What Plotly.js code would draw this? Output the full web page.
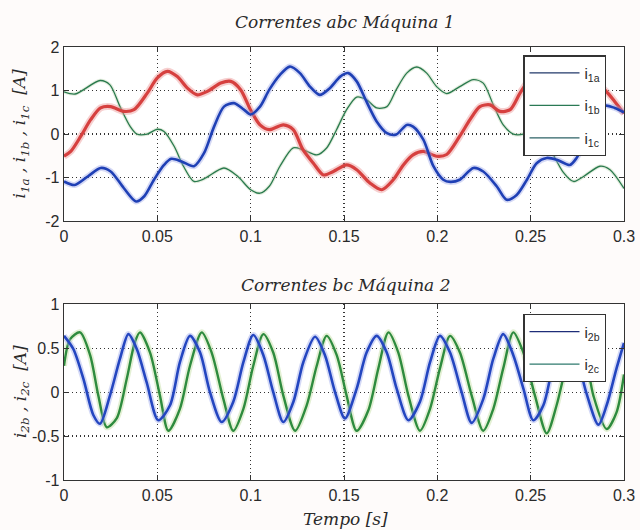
<!DOCTYPE html>
<html>
<head>
<meta charset="utf-8">
<script src="https://cdn.plot.ly/plotly-3.0.1.min.js"></script>
<style>html,body{margin:0;padding:0;background:#fefbfa;}</style>
</head>
<body>
<div id="chart" style="width:640px;height:530px;"></div>
<script>
// ---- Top plot: Correntes abc Máquina 1 ----
const i1a_t = [0,0.0057,0.0129,0.0196,0.025,0.032,0.0386,0.043,0.0482,0.0536,0.0575,0.063,0.0696,0.075,0.0804,0.0857,0.0911,0.0964,0.1,0.105,0.11,0.1157,0.121,0.1264,0.1318,0.137,0.1425,0.148,0.1523,0.1568,0.162,0.1675,0.173,0.178,0.1836,0.187,0.1925,0.1979,0.2032,0.207,0.212,0.2193,0.2246,0.2318,0.2371,0.2425,0.248,0.2532,0.2586,0.264,0.271,0.2746,0.28,0.285,0.29,0.295,0.3];
const i1a_v = [-1.09,-1.17,-0.97,-0.78,-0.86,-1.24,-1.55,-1.43,-1.05,-0.71,-0.57,-0.63,-0.74,-0.44,0.17,0.63,0.71,0.56,0.45,0.63,1.02,1.36,1.55,1.4,1.09,0.9,1.06,1.32,1.4,1.21,0.75,0.29,0.02,-0.01,0.21,0.17,-0.13,-0.74,-1.05,-1.1,-1.05,-0.78,-0.86,-1.2,-1.51,-1.4,-1.05,-0.67,-0.55,-0.59,-0.71,-0.55,-0.1,0.4,0.65,0.6,0.5];

const i1b_t = [0,0.006,0.0193,0.0246,0.03,0.0355,0.039,0.0446,0.05,0.0536,0.059,0.064,0.0696,0.075,0.0857,0.093,0.1,0.105,0.11,0.1157,0.1228,0.128,0.1354,0.1407,0.146,0.1514,0.1568,0.162,0.1675,0.173,0.178,0.1836,0.189,0.1943,0.1996,0.205,0.212,0.2193,0.2246,0.23,0.2353,0.2407,0.246,0.25,0.255,0.26,0.2675,0.273,0.2785,0.2871,0.2925,0.3];
const i1b_v = [0.97,0.92,1.23,1.13,0.63,0.17,0.0,0.0,0.11,0.06,-0.28,-0.74,-1.09,-1.03,-0.78,-0.97,-1.28,-1.36,-1.2,-0.74,-0.32,-0.36,-0.48,-0.32,0.1,0.56,0.85,0.79,0.6,0.63,1.02,1.4,1.54,1.4,1.09,0.93,1.09,1.25,1.17,0.67,0.21,0.0,0.0,0.1,0.05,-0.3,-0.88,-1.09,-0.97,-0.74,-0.82,-1.25];

const i1c_t = [0,0.0036,0.009,0.0143,0.0196,0.025,0.032,0.0375,0.0446,0.05,0.0554,0.0607,0.066,0.0714,0.0768,0.084,0.0893,0.0946,0.1,0.105,0.11,0.1175,0.1228,0.128,0.1336,0.139,0.1443,0.1514,0.1568,0.164,0.1702,0.1764,0.1818,0.187,0.1925,0.1996,0.205,0.212,0.2175,0.2228,0.2282,0.2336,0.239,0.2443,0.25,0.255,0.26,0.265,0.27,0.275,0.28,0.285,0.29,0.295,0.3];
const i1c_v = [-0.51,-0.4,-0.05,0.33,0.6,0.63,0.52,0.56,0.94,1.29,1.44,1.32,1.06,0.9,0.98,1.17,1.21,1.02,0.55,0.21,0.1,0.21,0.1,-0.36,-0.67,-0.94,-0.86,-0.71,-0.82,-1.13,-1.28,-1.05,-0.71,-0.48,-0.4,-0.51,-0.47,-0.05,0.33,0.63,0.67,0.52,0.56,0.94,1.29,1.44,1.32,1.06,0.9,0.98,1.1,1.15,1.0,0.75,0.47];

// ---- Bottom plot: Correntes bc Máquina 2 ----
const i2b_t = [0,0.005,0.0104,0.0157,0.0193,0.0246,0.03,0.0345,0.039,0.0443,0.0505,0.0568,0.0621,0.0675,0.0729,0.0782,0.0845,0.0907,0.0961,0.1014,0.1068,0.1121,0.1175,0.1229,0.1282,0.1345,0.1398,0.1452,0.1505,0.1568,0.1621,0.1675,0.1729,0.1782,0.1845,0.1907,0.1961,0.2014,0.2068,0.213,0.2184,0.2246,0.23,0.2353,0.2407,0.2461,0.2514,0.2568,0.262,0.268,0.274,0.2797,0.2863,0.2907,0.296,0.3];
const i2b_v = [0.64,0.49,0.15,-0.26,-0.36,-0.04,0.38,0.66,0.49,0.11,-0.32,-0.15,0.34,0.64,0.45,0.0,-0.34,-0.11,0.34,0.65,0.42,0.0,-0.34,-0.11,0.34,0.63,0.42,0.0,-0.3,0.04,0.45,0.64,0.45,0.04,-0.32,-0.11,0.34,0.64,0.45,0.0,-0.35,-0.08,0.38,0.66,0.42,0.04,-0.32,-0.15,0.3,0.64,0.45,0.0,-0.37,-0.15,0.27,0.56];

const i2c_t = [0,0.0032,0.0086,0.014,0.0184,0.0229,0.0282,0.0336,0.038,0.0407,0.0461,0.0514,0.0559,0.0621,0.0675,0.0738,0.0791,0.0854,0.0907,0.0961,0.1014,0.1068,0.1121,0.1175,0.1238,0.13,0.1354,0.1407,0.1461,0.1514,0.1568,0.163,0.1684,0.1738,0.1791,0.1845,0.1907,0.1961,0.2014,0.2068,0.2121,0.2184,0.2246,0.23,0.2353,0.2407,0.2461,0.2523,0.2586,0.2639,0.269,0.274,0.279,0.2836,0.2907,0.296,0.3];
const i2c_v = [0.3,0.6,0.68,0.42,-0.04,-0.4,-0.3,0.15,0.57,0.68,0.45,-0.04,-0.44,-0.19,0.3,0.68,0.45,-0.08,-0.44,-0.19,0.3,0.66,0.45,-0.04,-0.44,-0.15,0.3,0.64,0.42,-0.04,-0.44,-0.21,0.27,0.68,0.45,-0.04,-0.44,-0.19,0.27,0.64,0.45,-0.04,-0.44,-0.19,0.27,0.68,0.45,-0.04,-0.47,-0.15,0.3,0.66,0.45,-0.04,-0.42,-0.23,0.2];

const xTicks = [0,0.05,0.1,0.15,0.2,0.25,0.3];
const xTickText = ['0','0.05','0.1','0.15','0.2','0.25','0.3'];
const y1Ticks = [-2,-1,0,1,2];
const y1TickText = ['-2','-1','0','1','2'];
const y2Ticks = [-1,-0.5,0,0.5,1];
const y2TickText = ['-1','-0.5','0','0.5','1'];

const legend1Names = ['i<sub>1a</sub>','i<sub>1b</sub>','i<sub>1c</sub>'];
const legend1Colors = ['#22386a','#2a7a55','#2d6266'];
const legend2Names = ['i<sub>2b</sub>','i<sub>2c</sub>'];
const legend2Colors = ['#1e2d78','#2f7a6e'];

const sp = {shape:'spline', smoothing:0.8};
function L(o){return Object.assign(o, sp);}
const traces = [
  {x:i1b_t, y:i1b_v, xaxis:'x', yaxis:'y', mode:'lines', line:L({color:'rgba(200,220,190,0.5)', width:3.5}), showlegend:false, hoverinfo:'skip'},
  {x:i1b_t, y:i1b_v, xaxis:'x', yaxis:'y', mode:'lines', line:L({color:'#2a7a4e', width:1.3}), showlegend:false, hoverinfo:'skip'},
  {x:i1c_t, y:i1c_v, xaxis:'x', yaxis:'y', mode:'lines', line:L({color:'rgba(235,150,150,0.45)', width:7}), showlegend:false, hoverinfo:'skip'},
  {x:i1c_t, y:i1c_v, xaxis:'x', yaxis:'y', mode:'lines', line:L({color:'#d6403f', width:3.2}), showlegend:false, hoverinfo:'skip'},
  {x:i1a_t, y:i1a_v, xaxis:'x', yaxis:'y', mode:'lines', line:L({color:'rgba(150,160,230,0.4)', width:6}), showlegend:false, hoverinfo:'skip'},
  {x:i1a_t, y:i1a_v, xaxis:'x', yaxis:'y', mode:'lines', line:L({color:'#1f40b5', width:2.6}), showlegend:false, hoverinfo:'skip'},
  {x:i2c_t, y:i2c_v, xaxis:'x2', yaxis:'y2', mode:'lines', line:L({color:'rgba(200,225,170,0.5)', width:6}), showlegend:false, hoverinfo:'skip'},
  {x:i2c_t, y:i2c_v, xaxis:'x2', yaxis:'y2', mode:'lines', line:L({color:'#2e8b3e', width:2.4}), showlegend:false, hoverinfo:'skip'},
  {x:i2b_t, y:i2b_v, xaxis:'x2', yaxis:'y2', mode:'lines', line:L({color:'rgba(160,170,235,0.45)', width:6}), showlegend:false, hoverinfo:'skip'},
  {x:i2b_t, y:i2b_v, xaxis:'x2', yaxis:'y2', mode:'lines', line:L({color:'#2446c0', width:2.6}), showlegend:false, hoverinfo:'skip'}
];
legend1Names.forEach((n,k)=>traces.push({x:[null], y:[null], xaxis:'x', yaxis:'y', mode:'lines', name:n, legend:'legend', legendgroup:'a'+k, line:{color:legend1Colors[k], width:1.2}}));
legend2Names.forEach((n,k)=>traces.push({x:[null], y:[null], xaxis:'x2', yaxis:'y2', mode:'lines', name:n, legend:'legend2', legendgroup:'b'+k, line:{color:legend2Colors[k], width:1.2}}));

const tickFont = {family:'Liberation Sans, Arial, sans-serif', size:16, color:'#2a2a2a'};
const titleFont = {family:'DejaVu Serif, serif', size:17, color:'#2a2a2a', style:'italic'};
function ax(anchor, dom, rng, tv, tt){return {domain:dom, range:rng, anchor:anchor, tickvals:tv, ticktext:tt,
  showgrid:true, gridcolor:'#333', griddash:'1px,3px', gridwidth:1.2, zeroline:false, showline:true, linecolor:'#333', linewidth:1.3,
  mirror:'ticks', ticks:'inside', ticklen:5, tickcolor:'#333', tickfont:tickFont, fixedrange:true};}

const legendCommon = {xref:'paper', yref:'paper', xanchor:'left', yanchor:'top', bgcolor:'#ffffff', bordercolor:'#333', borderwidth:1.3,
  font:{family:'Liberation Sans, Arial, sans-serif', size:15, color:'#2a2a2a'}, itemwidth:50, tracegroupgap:10};

const layout = {
  width:640, height:530,
  margin:{l:64, r:16, t:47, b:50},
  paper_bgcolor:'#fefbfa', plot_bgcolor:'#ffffff',
  showlegend:true,
  xaxis: ax('y', [0,1], [0,0.3], xTicks, xTickText),
  yaxis: ax('x', [0.598,1], [-2,2], y1Ticks, y1TickText),
  xaxis2: ax('y2', [0,1], [0,0.3], xTicks, xTickText),
  yaxis2: ax('x2', [0,0.406], [-1,1], y2Ticks, y2TickText),
  legend: Object.assign({x:0.82, y:0.981}, legendCommon),
  legend2: Object.assign({x:0.82, y:0.383}, legendCommon),
  annotations:[
    {text:'Correntes abc Máquina 1', xref:'paper', yref:'paper', x:0.502, y:1.058, showarrow:false, font:titleFont, xanchor:'center', yanchor:'middle'},
    {text:'Correntes bc Máquina 2', xref:'paper', yref:'paper', x:0.502, y:0.450, showarrow:false, font:titleFont, xanchor:'center', yanchor:'middle'},
    {text:'Tempo [s]', xref:'paper', yref:'paper', x:0.502, y:-0.09, showarrow:false, font:titleFont, xanchor:'center', yanchor:'middle'},
    {text:'i<sub>1a</sub> , i<sub>1b</sub> , i<sub>1c</sub>  [A]', xref:'paper', yref:'paper', x:-0.077, y:0.80, textangle:-90, showarrow:false, font:titleFont, xanchor:'center', yanchor:'middle'},
    {text:'i<sub>2b</sub> , i<sub>2c</sub>  [A]', xref:'paper', yref:'paper', x:-0.077, y:0.205, textangle:-90, showarrow:false, font:titleFont, xanchor:'center', yanchor:'middle'}
  ]
};

Plotly.newPlot('chart', traces, layout, {staticPlot:true, displayModeBar:false});
</script>
</body>
</html>
